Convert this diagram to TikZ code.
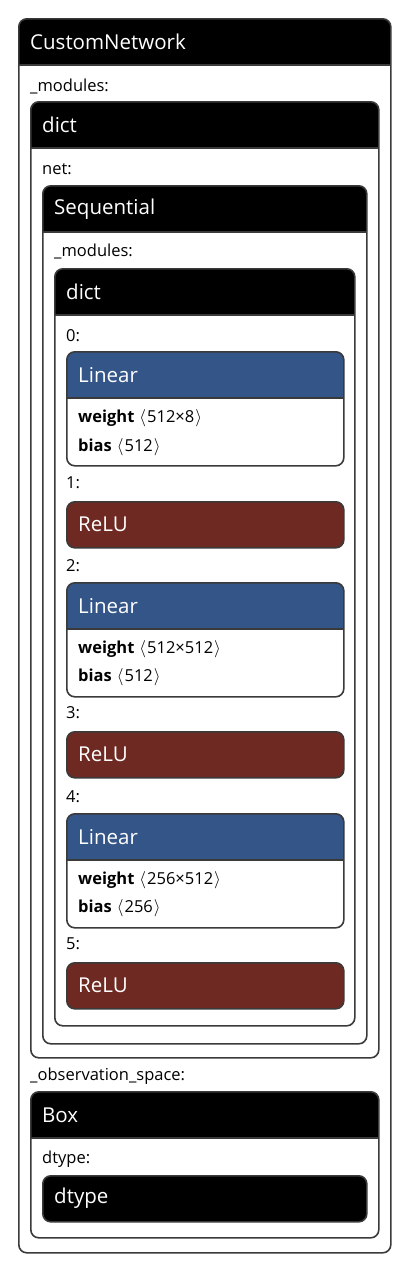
\documentclass[tikz,border=0pt]{standalone}
\usepackage{fontspec}
\setmainfont{Open Sans}
\definecolor{lin}{RGB}{51,85,136}
\definecolor{relu}{RGB}{110,42,34}
\definecolor{bd}{RGB}{58,58,58}
\tikzset{
 frame/.style 2 args={draw=bd, line width=1.6pt, rounded corners=8pt, fill=white, anchor=north west, inner sep=0pt, minimum width=#1, minimum height=#2},
 hdr/.style={path picture={\fill[#1, sharp corners] (path picture bounding box.north west) rectangle ([yshift=-46pt]path picture bounding box.north east); \draw[bd, line width=1.6pt, sharp corners] ([yshift=-46pt]path picture bounding box.north west) -- ([yshift=-46pt]path picture bounding box.north east);}},
 ttl/.style={anchor=west, text=white, font=\fontsize{20.5}{24}\selectfont, inner sep=0pt},
 lbl/.style={anchor=west, font=\fontsize{16.5}{19}\selectfont, inner sep=0pt},
}
\newcommand{\shp}[1]{\hspace{5pt}\ensuremath{\bigl\langle}\hspace{1pt}#1\hspace{1pt}\ensuremath{\bigr\rangle}}
\begin{document}
\begin{tikzpicture}[x=1pt,y=-1pt]
\path[use as bounding box] (0,0) rectangle (410,1272);
% outer
\node[frame={372pt}{1234pt}, hdr=black] (outer) at (18,18) {};
\node[ttl] (outer-t) at (30,42) {CustomNetwork};
\node[lbl] (l-mod) at (30,86) {\_modules:};
% dict
\node[frame={348pt}{956pt}, hdr=black] (dict1) at (30,101) {};
\node[ttl] (dict1-t) at (42,125) {dict};
\node[lbl] (l-net) at (42,169) {net:};
% Sequential
\node[frame={324pt}{858pt}, hdr=black] (seq) at (42,185) {};
\node[ttl] (seq-t) at (54,209) {Sequential};
\node[lbl] (l-mod2) at (54,251) {\_modules:};
% dict inner
\node[frame={300pt}{757pt}, hdr=black] (dict2) at (54,268) {};
\node[ttl] (dict2-t) at (66,292) {dict};
% items
\node[lbl] (l0) at (66,336) {0:};
\node[frame={277pt}{114pt}, hdr=lin] (lin1) at (66,351) {};
\node[ttl] (lin1-t) at (78,375) {Linear};
\node[lbl] (lin1-w) at (78,418) {\textbf{weight}\shp{512×8}};
\node[lbl] (lin1-b) at (78,447) {\textbf{bias}\shp{512}};
\node[lbl] (l1) at (66,483) {1:};
\node[frame={277pt}{46pt}, fill=relu] (relu1) at (66,501) {};
\node[ttl] (relu1-t) at (78,524) {ReLU};
\node[lbl] (l2) at (66,566) {2:};
\node[frame={277pt}{114pt}, hdr=lin] (lin2) at (66,582) {};
\node[ttl] (lin2-t) at (78,606) {Linear};
\node[lbl] (lin2-w) at (78,649) {\textbf{weight}\shp{512×512}};
\node[lbl] (lin2-b) at (78,677) {\textbf{bias}\shp{512}};
\node[lbl] (l3) at (66,713) {3:};
\node[frame={277pt}{46pt}, fill=relu] (relu2) at (66,731) {};
\node[ttl] (relu2-t) at (78,754) {ReLU};
\node[lbl] (l4) at (66,797) {4:};
\node[frame={277pt}{114pt}, hdr=lin] (lin3) at (66,813) {};
\node[ttl] (lin3-t) at (78,837) {Linear};
\node[lbl] (lin3-w) at (78,880) {\textbf{weight}\shp{256×512}};
\node[lbl] (lin3-b) at (78,908) {\textbf{bias}\shp{256}};
\node[lbl] (l5) at (66,944) {5:};
\node[frame={277pt}{46pt}, fill=relu] (relu3) at (66,962) {};
\node[ttl] (relu3-t) at (78,985) {ReLU};
% observation space
\node[lbl] (l-obs) at (30,1076) {\_observation\_space:};
\node[frame={348pt}{146pt}, hdr=black] (box) at (30,1091) {};
\node[ttl] (box-t) at (42,1115) {Box};
\node[lbl] (l-dt) at (42,1159) {dtype:};
\node[frame={324pt}{46pt}, fill=black] (dt) at (42,1175) {};
\node[ttl] (dt-t) at (54,1198) {dtype};
\end{tikzpicture}
\end{document}
